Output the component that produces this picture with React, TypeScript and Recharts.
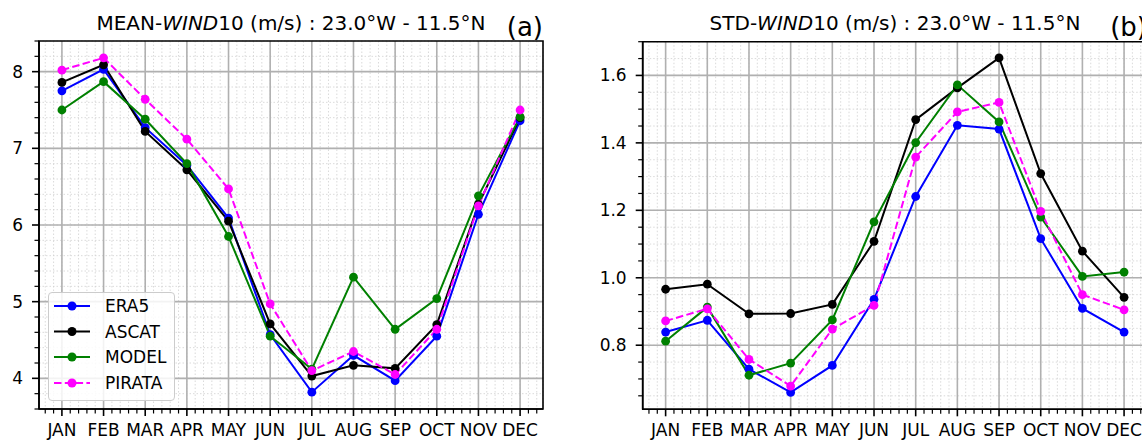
import React from 'react';
import { LineChart, Line, XAxis, YAxis, CartesianGrid, ReferenceLine, ReferenceArea, Legend } from 'recharts';

const FONT = "'DejaVu Sans', sans-serif";

const months = ['JAN', 'FEB', 'MAR', 'APR', 'MAY', 'JUN', 'JUL', 'AUG', 'SEP', 'OCT', 'NOV', 'DEC'];

const seriesNames = ['ERA5', 'ASCAT', 'MODEL', 'PIRATA'];
const seriesColors = ['#0000ff', '#000000', '#008000', '#ff00ff'];
const seriesDash = ['', '', '', '7.5 3.3'];

// MEAN wind (m/s)
const meanEra5 = [7.75, 8.03, 7.27, 6.78, 6.09, 4.57, 3.82, 4.30, 3.97, 4.55, 6.14, 7.36];
const meanAscat = [7.86, 8.09, 7.22, 6.72, 6.05, 4.71, 4.03, 4.17, 4.13, 4.70, 6.27, 7.40];
const meanModel = [7.50, 7.87, 7.38, 6.80, 5.85, 4.55, 4.12, 5.32, 4.64, 5.04, 6.38, 7.41];
const meanPirata = [8.02, 8.18, 7.64, 7.12, 6.47, 4.97, 4.10, 4.35, 4.05, 4.64, 6.25, 7.50];

// STD wind (m/s)
const stdEra5 = [0.839, 0.874, 0.729, 0.660, 0.740, 0.936, 1.241, 1.452, 1.441, 1.116, 0.909, 0.839];
const stdAscat = [0.966, 0.981, 0.893, 0.894, 0.921, 1.108, 1.469, 1.563, 1.652, 1.309, 1.079, 0.942];
const stdModel = [0.812, 0.913, 0.711, 0.747, 0.875, 1.166, 1.401, 1.572, 1.462, 1.180, 1.004, 1.017];
const stdPirata = [0.872, 0.908, 0.758, 0.679, 0.848, 0.918, 1.358, 1.492, 1.520, 1.197, 0.950, 0.905];

const xDomain = [-0.55, 11.55];
const meanYDomain = [3.6, 8.4];
const stdYDomain = [0.61, 1.7];

const xMajorTicks = [0, 1, 2, 3, 4, 5, 6, 7, 8, 9, 10, 11];
const meanYMajorTicks = [4, 5, 6, 7, 8];
const stdYMajorTicks = [0.8, 1.0, 1.2, 1.4, 1.6];

function steps(start: number, end: number, step: number): number[] {
  const out: number[] = [];
  const n = Math.round((end - start) / step);
  for (let i = 0; i <= n; i++) out.push(Math.round((start + i * step) * 1000) / 1000);
  return out;
}
const xAllTicks = steps(-0.4, 11.4, 0.2);
const meanYAllTicks = steps(3.6, 8.4, 0.2);
const stdYAllTicks = steps(0.65, 1.7, 0.05);

function buildData(cols: number[][]) {
  return months.map((m, i) => ({
    x: i,
    month: m,
    ERA5: cols[0][i],
    ASCAT: cols[1][i],
    MODEL: cols[2][i],
    PIRATA: cols[3][i],
  }));
}
const meanData = buildData([meanEra5, meanAscat, meanModel, meanPirata]);
const stdData = buildData([stdEra5, stdAscat, stdModel, stdPirata]);

const isMult = (v: number, m: number) => Math.abs(v / m - Math.round(v / m)) < 1e-6;

const XTick = (props: any) => {
  const { x, y, payload } = props;
  const v = payload.value;
  const major = isMult(v, 1);
  return (
    <g>
      <line x1={x} x2={x} y1={y} y2={y + (major ? 7 : 4.5)} stroke="#000" strokeWidth={major ? 1.6 : 1.2} />
      {major && (
        <text x={x} y={y + 15} dy="0.71em" textAnchor="middle" fontSize={17} fill="#000" fontFamily={FONT}>
          {months[Math.round(v)]}
        </text>
      )}
    </g>
  );
};

const makeYTick = (majorStep: number, fmt: (v: number) => string) => (props: any) => {
  const { x, y, payload } = props;
  const v = payload.value;
  const major = isMult(v, majorStep);
  return (
    <g>
      <line x1={x - (major ? 7 : 4.5)} x2={x} y1={y} y2={y} stroke="#000" strokeWidth={major ? 1.6 : 1.2} />
      {major && (
        <text x={x - 16} y={y} dy="0.355em" textAnchor="end" fontSize={17} fill="#000" fontFamily={FONT}>
          {fmt(v)}
        </text>
      )}
    </g>
  );
};
const MeanYTick = makeYTick(1, (v) => String(Math.round(v)));
const StdYTick = makeYTick(0.2, (v) => v.toFixed(1));

const LegendBox = () => {
  const rowY = [13, 38.5, 64, 90];
  return (
    <div
      style={{
        width: 127,
        height: 109,
        border: '1px solid #cccccc',
        borderRadius: 4,
        background: 'rgba(255,255,255,0.85)',
        boxSizing: 'border-box',
      }}
    >
      <svg width={125} height={107} style={{ display: 'block' }}>
        {seriesNames.map((n, i) => (
          <g key={n}>
            <line
              x1={5}
              x2={41}
              y1={rowY[i]}
              y2={rowY[i]}
              stroke={seriesColors[i]}
              strokeWidth={2}
              strokeDasharray={seriesDash[i] || undefined}
            />
            <circle cx={23} cy={rowY[i]} r={4.5} fill={seriesColors[i]} />
            <text x={56} y={rowY[i] + 6.2} fontSize={17} fill="#000" fontFamily={FONT}>
              {n}
            </text>
          </g>
        ))}
      </svg>
    </div>
  );
};

function Panel(props: {
  data: any[];
  width: number;
  yDomain: number[];
  yAllTicks: number[];
  yMajorTicks: number[];
  yTick: any;
  yAxisWidth: number;
  marginTop: number;
  marginRight: number;
  xAxisHeight: number;
  showLegend: boolean;
}) {
  const { data, width, yDomain, yAllTicks, yMajorTicks, yTick, yAxisWidth, marginTop, marginRight, xAxisHeight, showLegend } = props;
  return (
    <LineChart width={width} height={442} data={data} margin={{ top: marginTop, right: marginRight, bottom: 0, left: 0 }}>
      <CartesianGrid stroke="#d0d0d0" strokeWidth={0.8} strokeDasharray="1.5 2" />
      {xMajorTicks.map((v) => (
        <ReferenceLine key={'vx' + v} x={v} stroke="#b0b0b0" strokeWidth={1.6} zIndex={-50} />
      ))}
      {yMajorTicks.map((v) => (
        <ReferenceLine key={'hy' + v} y={v} stroke="#b0b0b0" strokeWidth={1.6} zIndex={-50} />
      ))}
      <XAxis
        type="number"
        dataKey="x"
        domain={xDomain}
        ticks={xAllTicks}
        tick={(p: any) => <XTick {...p} />}
        tickLine={false}
        tickSize={0}
        tickMargin={0}
        interval={0}
        height={xAxisHeight}
        allowDataOverflow
        axisLine={{ stroke: '#000', strokeWidth: 1.6 }}
      />
      <YAxis
        type="number"
        domain={yDomain}
        ticks={yAllTicks}
        tick={(p: any) => yTick(p)}
        tickLine={false}
        tickSize={0}
        tickMargin={0}
        interval={0}
        width={yAxisWidth}
        allowDataOverflow
        axisLine={{ stroke: '#000', strokeWidth: 1.6 }}
      />
      {seriesNames.map((n, i) => (
        <Line
          key={n}
          type="linear"
          dataKey={n}
          name={n}
          stroke={seriesColors[i]}
          strokeWidth={2}
          strokeDasharray={seriesDash[i] || undefined}
          dot={{ r: 4.4, fill: seriesColors[i], stroke: 'none', strokeDasharray: '0' }}
          isAnimationActive={false}
        />
      ))}
      <ReferenceArea
        x1={xDomain[0]}
        x2={xDomain[1]}
        y1={yDomain[0]}
        y2={yDomain[1]}
        fill="none"
        fillOpacity={0}
        stroke="#000"
        strokeWidth={1.6}
        ifOverflow="visible"
      />
      {showLegend && (
        <Legend
          layout="vertical"
          align="center"
          verticalAlign="middle"
          wrapperStyle={{ left: 47.5, top: 291.5, width: 127, height: 109 }}
          content={() => <LegendBox />}
        />
      )}
    </LineChart>
  );
}

export default function App() {
  return (
    <div
      style={{
        position: 'absolute',
        left: 0,
        top: 0,
        width: 1142,
        height: 442,
        overflow: 'hidden',
        background: '#fff',
        fontFamily: FONT,
      }}
    >
      <div style={{ position: 'absolute', left: 0, top: 0 }}>
        <Panel
          data={meanData}
          width={560}
          yDomain={meanYDomain}
          yAllTicks={meanYAllTicks}
          yMajorTicks={meanYMajorTicks}
          yTick={MeanYTick}
          yAxisWidth={39}
          marginTop={41}
          marginRight={17}
          xAxisHeight={33}
          showLegend={true}
        />
      </div>
      <div style={{ position: 'absolute', left: 560, top: 0 }}>
        <Panel
          data={stdData}
          width={600}
          yDomain={stdYDomain}
          yAllTicks={stdYAllTicks}
          yMajorTicks={stdYMajorTicks}
          yTick={StdYTick}
          yAxisWidth={82.7}
          marginTop={41.7}
          marginRight={13}
          xAxisHeight={32.7}
          showLegend={false}
        />
      </div>
      <svg width={1142} height={442} style={{ position: 'absolute', left: 0, top: 0, pointerEvents: 'none' }}>
        <text x={291} y={29.5} textAnchor="middle" fontSize={20} fill="#000" fontFamily={FONT}>
          MEAN-<tspan fontStyle="italic">WIND</tspan>10 (m/s) : 23.0°W - 11.5°N
        </text>
        <text x={543} y={36} textAnchor="end" fontSize={26} fill="#000" fontFamily={FONT}>
          (a)
        </text>
        <text x={895} y={29.5} textAnchor="middle" fontSize={20} fill="#000" fontFamily={FONT}>
          STD-<tspan fontStyle="italic">WIND</tspan>10 (m/s) : 23.0°W - 11.5°N
        </text>
        <text x={1147} y={36} textAnchor="end" fontSize={26} fill="#000" fontFamily={FONT}>
          (b)
        </text>
      </svg>
    </div>
  );
}
